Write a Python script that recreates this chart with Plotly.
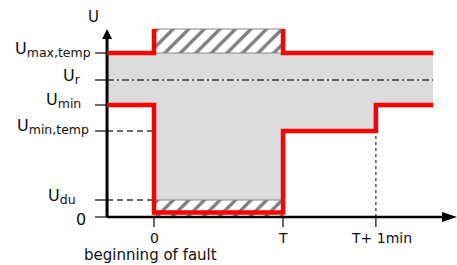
import plotly.graph_objects as go

# ---------------- data ----------------
time_labels = ["0", "T", "T+ 1min"]
time_values = [0.0, 1.0, 1.72]
t_axis_start = -0.364
t_curve_end = 2.163

level_labels = ["U<sub><span style='font-size:12.5px'>max,temp</span></sub>",
                "U<sub><span style='font-size:12.5px'>r</span></sub>",
                "U<sub><span style='font-size:12.5px'>min</span></sub>",
                "U<sub><span style='font-size:12.5px'>min,temp</span></sub>",
                "U<sub><span style='font-size:12.5px'>du</span></sub>", "0"]
level_values = [164, 137, 112, 86, 17, 0]
U_max_temp, U_r, U_min, U_min_temp, U_du, U_zero = level_values
hatch_top = 188
red_bottom = 4.5

upper_left_x = [t_axis_start, 0.0, 0.0]
upper_left_y = [U_max_temp, U_max_temp, hatch_top]
upper_right_x = [1.0, 1.0, t_curve_end]
upper_right_y = [hatch_top, U_max_temp, U_max_temp]

lower_x = [t_axis_start, 0.0, 0.0, 1.0, 1.0, 1.72, 1.72, t_curve_end]
lower_y = [U_min, U_min, red_bottom, red_bottom, U_min_temp, U_min_temp, U_min, U_min]
band_lower_y = [U_min, U_min, U_du, U_du, U_min_temp, U_min_temp, U_min, U_min]

# ---------------- geometry helpers (pixel <-> data) ----------------
W, H = 457, 265
X0_PX, T_PX, Y0_PX = 154, 283, 217
def px_x(p):
    return (p - X0_PX) / (T_PX - X0_PX)
def px_y(p):
    return Y0_PX - p

RED = "#FF0000"
GRAY = "#DCDCDC"
DARK = "#3a3a3a"
FONT = "DejaVu Sans"

fig = go.Figure()

def line(x, y, color, width, dash="solid"):
    fig.add_trace(go.Scatter(x=x, y=y, mode="lines", hoverinfo="skip",
                             line=dict(color=color, width=width, dash=dash),
                             showlegend=False))

# gray tolerance band
fig.add_trace(go.Scatter(x=lower_x + [t_curve_end, t_axis_start],
                         y=band_lower_y + [U_max_temp, U_max_temp],
                         fill="toself", fillcolor=GRAY, mode="lines",
                         line=dict(width=0), hoverinfo="skip", showlegend=False))

# hatched areas
for y_lo, y_hi in [(U_max_temp, hatch_top), (U_zero, U_du)]:
    fig.add_trace(go.Scatter(x=[0, 1, 1, 0, 0], y=[y_lo, y_lo, y_hi, y_hi, y_lo],
                             fill="toself", mode="lines",
                             line=dict(width=1, color="#888888"),
                             fillpattern=dict(shape="/", fgcolor="black", bgcolor="white",
                                              size=11, solidity=0.3),
                             hoverinfo="skip", showlegend=False))

# reference lines
tick_l, tick_r = px_x(95), px_x(107)
line([tick_r, 0.0], [U_min_temp, U_min_temp], DARK, 1.3, "6px,4px")
line([tick_r, 0.0], [U_du, U_du], DARK, 1.3, "6px,4px")
line([tick_r, t_curve_end], [U_r, U_r], DARK, 1.3, "7px,3px,2px,3px")
line([time_values[2], time_values[2]], [U_zero, U_min_temp], DARK, 1.3, "3px,3px")

# y ticks
for v in level_values:
    line([tick_l, tick_r], [v, v], DARK, 1.5)
# x ticks
for v in time_values:
    line([v, v], [U_zero, px_y(227)], DARK, 1.5)

# axes
line([t_axis_start, t_axis_start], [U_zero, px_y(37)], "black", 3)
line([t_axis_start, px_x(445)], [U_zero, U_zero], "black", 2.5)
# arrowheads
hw = px_x(112) - px_x(107)
fig.add_trace(go.Scatter(x=[t_axis_start - hw, t_axis_start, t_axis_start + hw, t_axis_start - hw],
                         y=[px_y(39), px_y(29), px_y(39), px_y(39)],
                         fill="toself", fillcolor="black", mode="lines",
                         line=dict(width=0, color="black"), hoverinfo="skip", showlegend=False))
fig.add_trace(go.Scatter(x=[px_x(442), px_x(457), px_x(442), px_x(442)],
                         y=[px_y(212), px_y(217), px_y(222), px_y(212)],
                         fill="toself", fillcolor="black", mode="lines",
                         line=dict(width=0, color="black"), hoverinfo="skip", showlegend=False))

# red limit curves
line(upper_left_x, upper_left_y, RED, 4.5)
line(upper_right_x, upper_right_y, RED, 4.5)
line(lower_x, lower_y, RED, 4.5)

# labels
label_right_px = [93, 83, 83, 91, 78, 88]
label_shift = [4, 4, 5, 5, 4, -2]
annotations = []
for lab, v, rp, sh in zip(level_labels, level_values, label_right_px, label_shift):
    annotations.append(dict(x=px_x(rp), y=v, text=lab, showarrow=False, xanchor="right",
                            yanchor="middle", yshift=sh,
                            font=dict(family=FONT, size=16, color="#111111")))
time_center_px = [154, 283, 381]
for lab, v, cp in zip(time_labels, time_values, time_center_px):
    annotations.append(dict(x=px_x(cp), y=px_y(238), text=lab, showarrow=False,
                            xanchor="center", yanchor="middle",
                            font=dict(family=FONT, size=14, color="#111111")))
annotations.append(dict(x=px_x(150), y=px_y(255), text="beginning of fault", showarrow=False,
                        xanchor="center", yanchor="middle",
                        font=dict(family=FONT, size=15, color="#111111")))
annotations.append(dict(x=px_x(93), y=px_y(17), text="U", showarrow=False,
                        xanchor="center", yanchor="middle",
                        font=dict(family=FONT, size=15, color="#111111")))

fig.update_layout(
    width=W, height=H, margin=dict(l=0, r=0, t=0, b=0),
    paper_bgcolor="white", plot_bgcolor="white",
    xaxis=dict(range=[px_x(0), px_x(W)], visible=False, fixedrange=True),
    yaxis=dict(range=[px_y(H), px_y(0)], visible=False, fixedrange=True),
    annotations=annotations, showlegend=False,
)
fig.write_html("out.html", config={"displayModeBar": False},
               post_script="document.body.style.margin='0';")
